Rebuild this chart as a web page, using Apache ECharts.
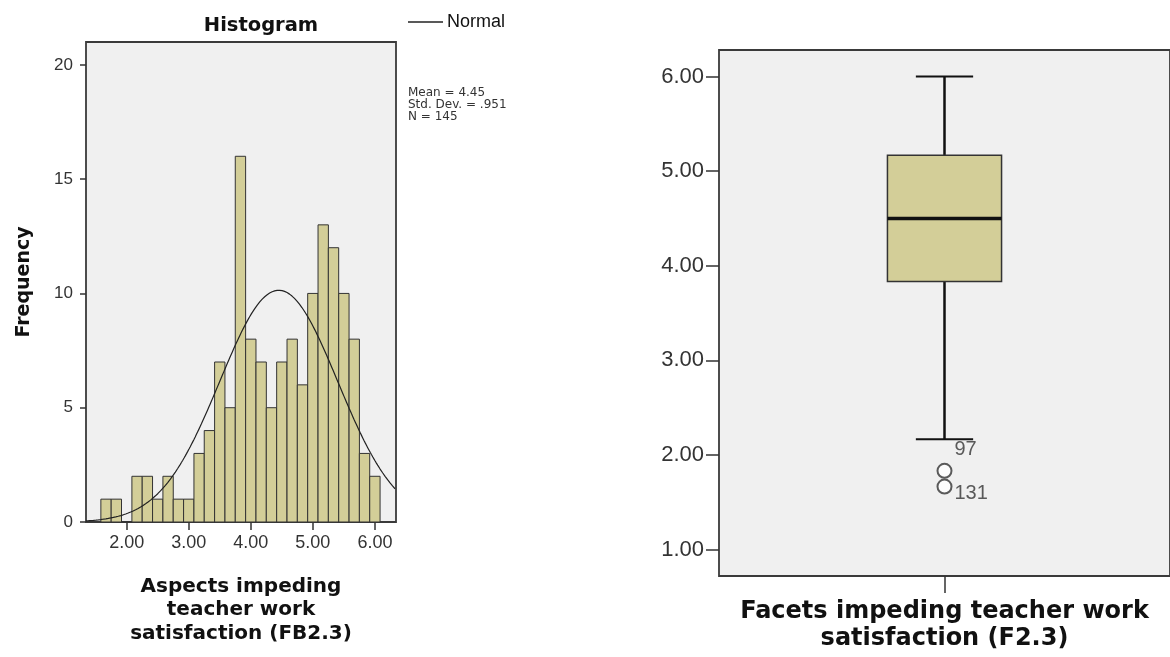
<!DOCTYPE html>
<html>
<head>
<meta charset="utf-8">
<script src="https://cdn.jsdelivr.net/npm/echarts@6/dist/echarts.min.js"></script>
<style>
  html, body { margin: 0; padding: 0; background: #ffffff; }
  #chart { width: 1170px; height: 657px; }
</style>
</head>
<body>
<div id="chart"></div>
<script>
// Histogram of FB2.3: bins of width 1/6, identified by their midpoints
const binMidpoints = [1.667, 1.833, 2.000, 2.167, 2.333, 2.500, 2.667, 2.833, 3.000,
                      3.167, 3.333, 3.500, 3.667, 3.833, 4.000, 4.167, 4.333, 4.500,
                      4.667, 4.833, 5.000, 5.167, 5.333, 5.500, 5.667, 5.833, 6.000];
const binCounts = [1, 1, 0, 2, 2, 1, 2, 1, 1,
                   3, 4, 7, 5, 16, 8, 7, 5, 7,
                   8, 6, 10, 13, 12, 10, 8, 3, 2];
const binWidth = 1 / 6;
const histXTicks = [2, 3, 4, 5, 6];
const histYTicks = [0, 5, 10, 15, 20];
const histXRange = [1.344, 6.34];
const histYRange = [0, 21];

// Fitted normal curve parameters
const normalMean = 4.45;
const normalSD = 0.951;
const normalN = 145;

// Box plot of F2.3
const boxCategory = ['F2.3'];
const boxStats = [2.167, 3.833, 4.5, 5.167, 6.0]; // lower whisker, Q1, median, Q3, upper whisker
const outlierValues = [1.833, 1.667];
const outlierIds = ['97', '131'];
const boxYTicks = [1, 2, 3, 4, 5, 6];
const boxYRange = [0.722, 6.28];

const FONT = '"Liberation Sans", Arial, sans-serif';
const BOLD_FONT = '"DejaVu Sans", "Liberation Sans", sans-serif';

// Normal density scaled to counts per bin
const normalCurve = [];
for (let x = histXRange[0]; x <= histXRange[1] + 1e-9; x += 0.02) {
  const z = (x - normalMean) / normalSD;
  const y = normalN * binWidth * Math.exp(-0.5 * z * z) / (normalSD * Math.sqrt(2 * Math.PI));
  normalCurve.push([x, y]);
}

const histData = binMidpoints.map((m, i) => [m, binCounts[i]]);
const outlierData = outlierValues.map((v, i) => ({
  value: [0, v],
  name: outlierIds[i],
  label: { offset: i === 0 ? [0, -21] : [0, 7] }
}));

const chart = echarts.init(document.getElementById('chart'));

chart.setOption({
  animation: false,
  backgroundColor: '#ffffff',
  textStyle: { fontFamily: FONT },
  title: {
    text: 'Histogram',
    left: 256,
    top: 11,
    textAlign: 'center',
    textStyle: { fontFamily: BOLD_FONT, fontWeight: 'bold', fontSize: 19.5, color: '#111' }
  },
  legend: {
    data: [{ name: 'Normal', icon: 'rect' }],
    left: 403,
    top: 8,
    itemWidth: 35,
    itemHeight: 1.3,
    textStyle: { fontFamily: FONT, fontSize: 18, color: '#111', padding: [0, 0, 0, -1] }
  },
  graphic: [{
    type: 'text',
    left: 408,
    top: 87,
    style: {
      text: 'Mean = 4.45\nStd. Dev. = .951\nN = 145',
      font: '12px "DejaVu Sans", sans-serif',
      lineHeight: 12,
      fill: '#333'
    }
  }],
  grid: [
    { left: 86, top: 42, width: 310, height: 480, show: true,
      backgroundColor: '#f0f0f0', borderColor: '#3a3a3a', borderWidth: 1.8 },
    { left: 719, top: 50, width: 452, height: 527, show: true,
      backgroundColor: '#f0f0f0', borderColor: '#3a3a3a', borderWidth: 1.8 }
  ],
  xAxis: [
    {
      gridIndex: 0, type: 'value',
      min: histXRange[0], max: histXRange[1],
      axisLine: { show: false },
      splitLine: { show: false },
      axisTick: { show: true, customValues: histXTicks, length: 8, lineStyle: { color: '#333', width: 1.5 } },
      axisLabel: { customValues: histXTicks, formatter: v => v.toFixed(2), margin: 12,
                   fontSize: 18, color: '#333', fontFamily: FONT },
      name: 'Aspects impeding\nteacher work\nsatisfaction (FB2.3)',
      nameLocation: 'middle',
      nameGap: 53,
      nameTextStyle: { fontFamily: BOLD_FONT, fontWeight: 'bold', fontSize: 20, lineHeight: 23.5, color: '#111' }
    },
    {
      gridIndex: 1, type: 'category', data: boxCategory,
      axisLine: { show: false },
      axisTick: { show: true, alignWithLabel: true, length: 17, lineStyle: { color: '#333', width: 1.5 } },
      axisLabel: { show: false },
      name: 'Facets impeding teacher work\nsatisfaction (F2.3)',
      nameLocation: 'middle',
      nameGap: 22,
      nameTextStyle: { fontFamily: BOLD_FONT, fontWeight: 'bold', fontSize: 24, lineHeight: 27, color: '#111' }
    }
  ],
  yAxis: [
    {
      gridIndex: 0, type: 'value',
      min: histYRange[0], max: histYRange[1],
      axisLine: { show: false },
      splitLine: { show: false },
      axisTick: { show: true, customValues: histYTicks, length: 6, lineStyle: { color: '#333', width: 1.5 } },
      axisLabel: { customValues: histYTicks, margin: 13, fontSize: 17, color: '#333', fontFamily: FONT },
      name: 'Frequency',
      nameLocation: 'middle',
      nameGap: 52,
      nameTextStyle: { fontFamily: BOLD_FONT, fontWeight: 'bold', fontSize: 19, color: '#111' }
    },
    {
      gridIndex: 1, type: 'value',
      min: boxYRange[0], max: boxYRange[1],
      axisLine: { show: false },
      splitLine: { show: false },
      axisTick: { show: true, customValues: boxYTicks, length: 13, lineStyle: { color: '#333', width: 1.5 } },
      axisLabel: { customValues: boxYTicks, formatter: v => v.toFixed(2), margin: 15,
                   fontSize: 22, color: '#333', fontFamily: FONT }
    }
  ],
  series: [
    {
      name: 'Frequency',
      type: 'custom',
      xAxisIndex: 0, yAxisIndex: 0,
      data: histData,
      encode: { x: 0, y: 1 },
      renderItem: function (params, api) {
        const mid = api.value(0);
        const cnt = api.value(1);
        const p0 = api.coord([mid - binWidth / 2, cnt]);
        const p1 = api.coord([mid + binWidth / 2, 0]);
        return {
          type: 'rect',
          shape: { x: p0[0], y: p0[1], width: p1[0] - p0[0], height: p1[1] - p0[1] },
          style: { fill: '#d3ce98', stroke: '#333', lineWidth: 1 }
        };
      },
      z: 2
    },
    {
      name: 'Normal',
      type: 'line',
      xAxisIndex: 0, yAxisIndex: 0,
      data: normalCurve,
      symbol: 'none',
      lineStyle: { color: '#222', width: 1.2 },
      itemStyle: { color: '#222' },
      z: 3
    },
    {
      name: 'F2.3',
      type: 'custom',
      xAxisIndex: 1, yAxisIndex: 1,
      data: [[0].concat(boxStats)],
      encode: { x: 0, y: [1, 2, 3, 4, 5] },
      renderItem: function (params, api) {
        const band = api.size([1, 0])[0];
        const boxHalf = band * 0.1265;
        const capHalf = band * 0.0635;
        const lo = api.coord([api.value(0), api.value(1)]);
        const q1 = api.coord([api.value(0), api.value(2)]);
        const med = api.coord([api.value(0), api.value(3)]);
        const q3 = api.coord([api.value(0), api.value(4)]);
        const hi = api.coord([api.value(0), api.value(5)]);
        const cx = lo[0];
        const line = (x1, y1, x2, y2, w) => ({
          type: 'line', shape: { x1, y1, x2, y2 },
          style: { stroke: '#111', lineWidth: w }
        });
        return {
          type: 'group',
          children: [
            line(cx, hi[1], cx, q3[1], 2.5),
            line(cx, q1[1], cx, lo[1], 2.5),
            line(cx - capHalf, hi[1], cx + capHalf, hi[1], 2),
            line(cx - capHalf, lo[1], cx + capHalf, lo[1], 2),
            {
              type: 'rect',
              shape: { x: cx - boxHalf, y: q3[1], width: boxHalf * 2, height: q1[1] - q3[1] },
              style: { fill: '#d3ce98', stroke: '#333', lineWidth: 1.5 }
            },
            line(cx - boxHalf, med[1], cx + boxHalf, med[1], 3.5)
          ]
        };
      }
    },
    {
      name: 'Outliers',
      type: 'scatter',
      xAxisIndex: 1, yAxisIndex: 1,
      data: outlierData,
      symbol: 'emptyCircle',
      symbolSize: 14,
      itemStyle: { color: '#333', borderColor: '#333', borderWidth: 1.5 },
      label: {
        show: true,
        position: 'right',
        distance: 2,
        formatter: p => p.name,
        fontFamily: FONT,
        fontSize: 20,
        color: '#333'
      },
      z: 4
    }
  ]
});
</script>
</body>
</html>
